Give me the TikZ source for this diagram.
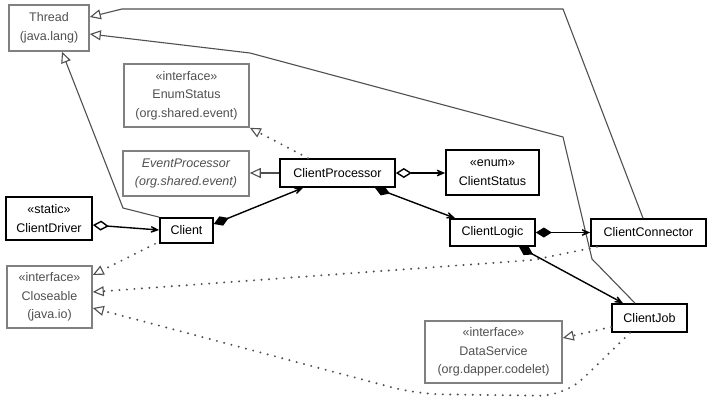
\documentclass[tikz,border=0pt]{standalone}
\usepackage{fontspec}
\setmainfont{Liberation Sans}
\usetikzlibrary{arrows.meta}
\definecolor{gbord}{HTML}{808080}
\definecolor{gtext}{HTML}{505050}
\definecolor{gline}{HTML}{505050}
\definecolor{gdot}{HTML}{505050}
\tikzset{
  cls/.style={draw=black, line width=1.7pt, fill=white, align=center, inner sep=0pt,
    font=\fontsize{12.5}{18.5}\selectfont, text=black},
  ext/.style={draw=gbord, line width=1.6pt, fill=white, align=center, inner sep=0pt,
    font=\fontsize{12.5}{18.5}\selectfont, text=gtext},
  gen/.style={draw=gline, line width=1.1pt, -{Triangle[open,length=11pt,width=10pt,fill=white]}},
  real/.style={draw=gdot, line width=2.2pt, line cap=round, dash pattern=on 0pt off 7.5pt,
    -{Triangle[open,length=11pt,width=10pt,fill=white,line width=1.1pt,line cap=butt]}},
  assoc/.style={draw=black, line width=1.4pt},
  compo/.style={assoc, {Diamond[length=16pt,width=10pt]}-{Stealth[length=14pt,width=12pt,inset=9pt]}},
  aggr/.style={assoc, {Diamond[open,length=16pt,width=10pt,fill=white]}-{Stealth[length=14pt,width=12pt,inset=9pt]}},
}
\begin{document}
\begin{tikzpicture}[x=1pt,y=-1pt]
\useasboundingbox[fill=white] (0,0) rectangle (712,400);

\node[ext, minimum width=80pt, minimum height=46pt] (thread) at (49,28) {Thread\\(java.lang)};
\node[ext, minimum width=125pt, minimum height=63pt] (enum) at (186.5,95.5) {«interface»\\EnumStatus\\(org.shared.event)};
\node[ext, minimum width=126pt, minimum height=45pt, font=\fontsize{12.5}{18.5}\selectfont\itshape] (ep) at (186,173.5) {EventProcessor\\(org.shared.event)};
\node[cls, minimum width=115pt, minimum height=28pt] (cp) at (337.5,173) {ClientProcessor};
\node[cls, minimum width=53pt, minimum height=25pt] (client) at (186.5,230.5) {Client};
\node[cls, minimum width=86pt, minimum height=43pt] (cd) at (49,218.5) {«static»\\ClientDriver};
\node[cls, minimum width=93pt, minimum height=45pt] (cs) at (492.5,172.5) {«enum»\\ClientStatus};
\node[cls, minimum width=85pt, minimum height=27pt] (cl) at (492.5,232.5) {ClientLogic};
\node[cls, minimum width=115pt, minimum height=27pt] (cconn) at (648.5,232.5) {ClientConnector};
\node[ext, minimum width=85pt, minimum height=62pt] (close) at (49.5,297) {«interface»\\Closeable\\(java.io)};
\node[cls, minimum width=75pt, minimum height=28pt] (cj) at (649.5,318) {ClientJob};
\node[ext, minimum width=137pt, minimum height=62pt] (ds) at (493.5,352) {«interface»\\DataService\\(org.dapper.codelet)};

% generalizations
\draw[gen] (643,0 |- cconn.north) -- (563,9) -- (122,9) -- (thread.east |- 0,17);
\draw[gen] (635,0 |- cj.north) -- (592,259) -- (563,137) -- (250,53) -- (thread.east |- 0,34);
\draw[gen] (client.north west) -- (123,208) -- (62,0 |- thread.south);
\draw[gen] (cp.west) -- (cp.west -| ep.east);

% realizations
\draw[real] (308,0 |- cp.north) -- (enum.south east);
\draw[real] (155,0 |- client.south) -- (close.east |- 0,275);
\draw[real] (597,0 |- cconn.south) -- (533,260) -- (close.east |- 0,292);
\draw[real, rounded corners=25pt] (630,0 |- cj.south) -- (565,396) -- (417,394) -- (close.east |- 0,308);
\draw[real] (cj.west |- 0,327) -- (ds.east |- 0,338);

% associations
\draw[aggr] (cp.east) -- (cp.east -| cs.west);
\draw[compo] (375,0 |- cp.south) -- (455,0 |- cl.north);
\draw[compo] (client.east |- 0,224) -- (303,0 |- cp.south);
\draw[aggr] (cd.east |- 0,225) -- (client.west |- 0,230);
\draw[compo] (cl.east) -- (cconn.west);
\draw[compo] (519,0 |- cl.south) -- (623,0 |- cj.north);
\end{tikzpicture}
\end{document}
